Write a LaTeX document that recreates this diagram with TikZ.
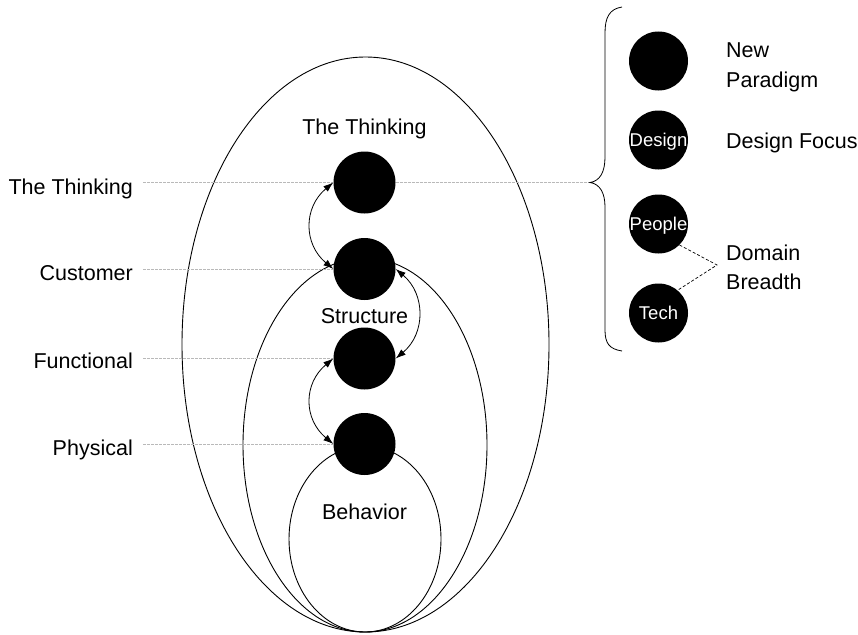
\documentclass[tikz,border=0pt]{standalone}
\usepackage{fontspec}
\setmainfont{Liberation Sans}
\usetikzlibrary{arrows.meta}
\begin{document}
\begin{tikzpicture}[x=1pt,y=-1pt,
  dot/.style={circle,fill=black,minimum size=62pt,inner sep=0pt},
  sdot/.style={circle,fill=black,minimum size=59pt,inner sep=0pt,text=white,
    text height=13pt,text depth=0pt,font=\fontsize{18.5}{20}\selectfont},
  lbl/.style={font=\fontsize{21.5}{25}\selectfont,inner sep=0pt},
  guide/.style={gray!55,line width=0.7pt,dash pattern=on 3pt off 1pt},
  loopline/.style={line width=0.9pt},
  link/.style={{Latex[length=10pt,width=7pt]}-{Latex[length=10pt,width=7pt]},line width=0.8pt},
  domainlink/.style={line width=0.7pt,dash pattern=on 3pt off 2pt},
]
\useasboundingbox (0,0) rectangle (858,634);

% nested loops
\draw[loopline] (365.5,344.5) ellipse [x radius=183.5, y radius=287.5];
\draw[loopline] (365,445) ellipse [x radius=122, y radius=187];
\draw[loopline] (365,539) ellipse [x radius=76, y radius=93];

% level labels on the left
\node[lbl,anchor=base east] (lthink) at (133,194) {The Thinking};
\node[lbl,anchor=base east] (lcust)  at (133,280) {Customer};
\node[lbl,anchor=base east] (lfunc)  at (133,368) {Functional};
\node[lbl,anchor=base east] (lphys)  at (133,455) {Physical};

% level circles
\node[dot] (think) at (364.5,182.5) {};
\node[dot] (cust)  at (364.5,269) {};
\node[dot] (func)  at (364.5,358.5) {};
\node[dot] (phys)  at (364.5,444) {};

% guide lines from labels to circles
\coordinate (bt) at (590,182.5);
\draw[guide] ([xshift=10pt]lthink.east |- think.west) -- (think.west);
\draw[guide] ([xshift=10pt]lcust.east |- cust.west) -- (cust.west);
\draw[guide] ([xshift=10pt]lfunc.east |- func.west) -- (func.west);
\draw[guide] ([xshift=10pt]lphys.east |- phys.west) -- (phys.west);
\draw[guide] (think.east) -- (bt);

% two-way links between levels
\draw[link] (think.west) .. controls +(-30,25) and +(-30,-25) .. (cust.west);
\draw[link] (func.west) .. controls +(-30,25) and +(-30,-25) .. (phys.west);
\draw[link] (cust.east) .. controls +(30,25) and +(30,-25) .. (func.east);

% region titles
\node[lbl,anchor=base] (tthink) at (364.5,134) {The Thinking};
\node[lbl,anchor=base] (tstruct) at (364.5,323.5) {Structure};
\node[lbl,anchor=base] (tbehav) at (364.5,519) {Behavior};

% brace
\draw[line width=0.8pt] (622,7) .. controls (609,9) and (605,18) .. (605,33)
  -- (605,157) .. controls (605,172) and (600,181) .. (bt)
  .. controls (600,184) and (605,193) .. (605,207)
  -- (605,330) .. controls (605,343) and (609,349) .. (622,351);

% legend circles
\node[sdot] (np)     at (658.5,61) {};
\node[sdot] (design) at (658.5,140) {Design};
\node[sdot] (people) at (658.5,224) {People};
\node[sdot] (tech)   at (658.5,313) {Tech};

% legend texts
\node[lbl,anchor=base west] (tnew)   at (726,57) {New};
\node[lbl,anchor=base west] (tpar)   at (726,87) {Paradigm};
\node[lbl,anchor=base west] (tfocus) at (726,148) {Design Focus};
\node[lbl,anchor=base west] (tdom)   at (726,260) {Domain};
\node[lbl,anchor=base west] (tbre)   at (726,289) {Breadth};

\coordinate (db) at (717,265);
\draw[domainlink] (people.-45) -- (db) -- (tech.50);
\end{tikzpicture}
\end{document}
